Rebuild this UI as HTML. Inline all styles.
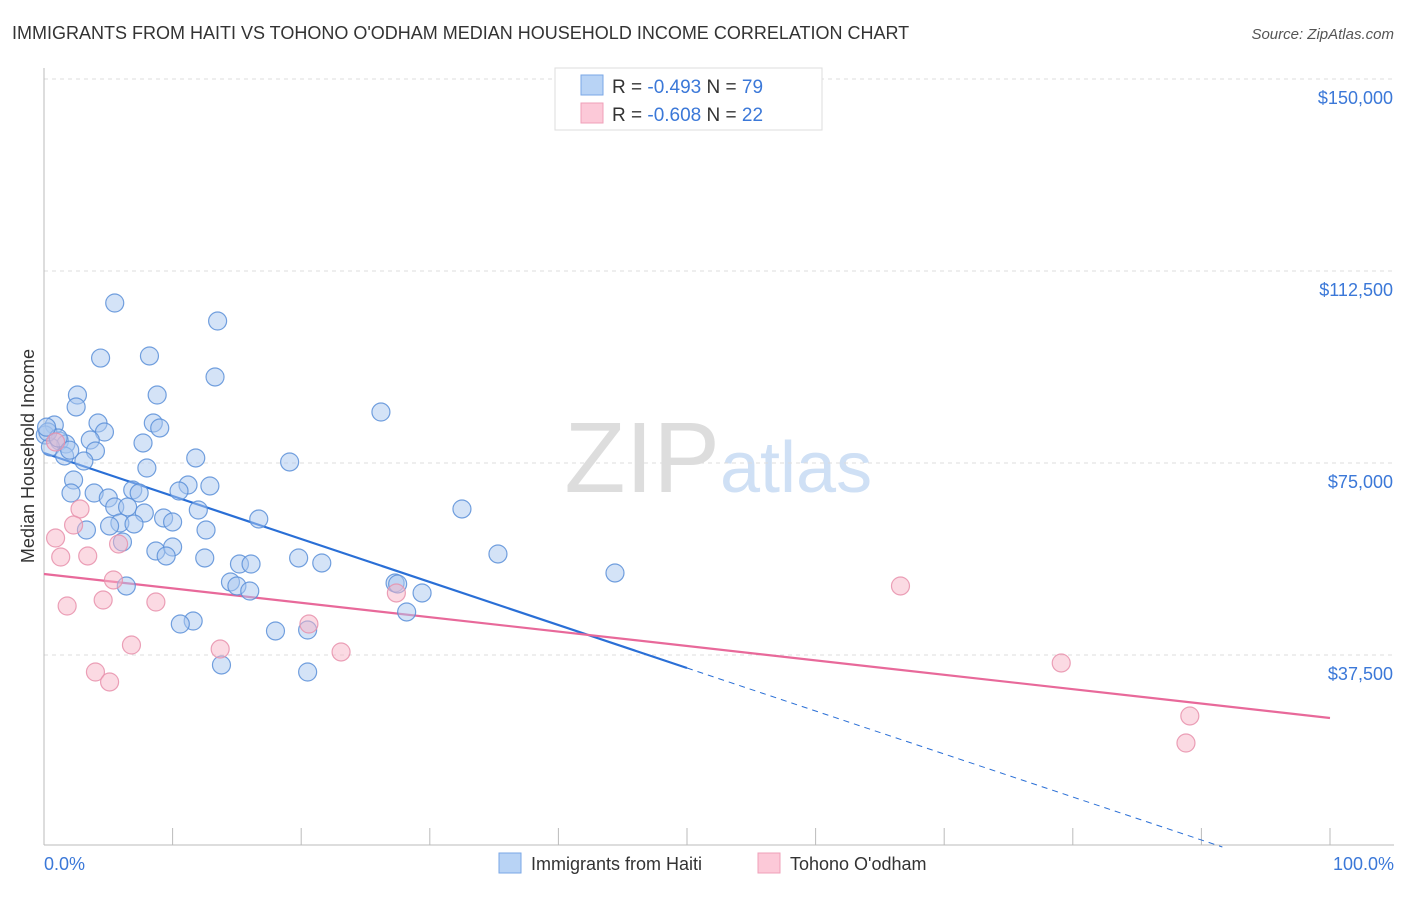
<!DOCTYPE html>
<html><head><meta charset="utf-8"><style>
body{margin:0;background:#fff;font-family:"Liberation Sans",sans-serif;}
svg text{font-family:"Liberation Sans",sans-serif;}
</style></head><body>
<svg width="1406" height="892" xmlns="http://www.w3.org/2000/svg" id="chart">
<text x="12" y="39" font-size="18" fill="#333">IMMIGRANTS FROM HAITI VS TOHONO O'ODHAM MEDIAN HOUSEHOLD INCOME CORRELATION CHART</text>
<text x="1394" y="39" font-size="15" fill="#555" font-style="italic" text-anchor="end">Source: ZipAtlas.com</text>
<text x="720" y="492" font-size="100" fill="#ddd" font-family="Liberation Serif" text-anchor="end">ZIP</text>
<text x="720" y="492" font-size="72" fill="#cfe0f5">atlas</text>
<g id="grid"></g>
<g id="axes"></g>
<g id="lines"></g>
<g id="pts"></g>
<text transform="translate(34,456) rotate(-90)" font-size="18" fill="#333" text-anchor="middle">Median Household Income</text>
<text x="44" y="870" font-size="18" fill="#3b78d8">0.0%</text>
<text x="1394" y="870" font-size="18" fill="#3b78d8" text-anchor="end">100.0%</text>
<g>
<rect x="555" y="68" width="267" height="62" fill="#fff" stroke="#ddd"/>
<rect x="581" y="75" width="22" height="20" fill="#b8d3f5" stroke="#7aa7e6"/>
<rect x="581" y="103" width="22" height="20" fill="#fcc9d8" stroke="#efa0b9"/>
<text x="612" y="93" font-size="19" fill="#333">R = <tspan fill="#3b78d8">-0.493</tspan>   N = <tspan fill="#3b78d8">79</tspan></text>
<text x="612" y="121" font-size="19" fill="#333">R = <tspan fill="#3b78d8">-0.608</tspan>   N = <tspan fill="#3b78d8">22</tspan></text>
</g>
<g>
<rect x="499" y="853" width="22" height="20" fill="#b8d3f5" stroke="#7aa7e6"/>
<text x="531" y="870" font-size="18" fill="#333">Immigrants from Haiti</text>
<rect x="758" y="853" width="22" height="20" fill="#fcc9d8" stroke="#efa0b9"/>
<text x="790" y="870" font-size="18" fill="#333">Tohono O'odham</text>
</g>
</svg>
<script>
const yTicks=[37500,75000,112500,150000];
const yTickLabels=["$37,500","$75,000","$112,500","$150,000"];
const xTicks=[0,10,20,30,40,50,60,70,80,90,100];
const haitiX=[5.5,13.5,4.4,8.2,13.3,2.6,8.8,2.5,26.2,4.2,8.5,0.8,9.0,4.7,0.1,3.6,7.7,1.2,1.7,0.5,4.0,1.6,11.8,3.1,19.1,8.0,2.3,11.2,12.9,10.5,3.9,2.1,6.9,7.4,5.0,5.5,6.5,12.0,7.8,9.3,10.0,5.9,7.0,32.5,16.7,12.6,3.3,5.1,6.1,8.7,10.0,9.5,12.5,19.8,21.6,35.3,15.2,16.1,44.4,14.5,15.0,27.3,27.5,16.0,29.4,6.4,28.2,11.6,10.6,18.0,20.5,13.8,20.5,0.3,1.1,2.0,0.2];
const haitiY=[106250,102730,95500,95900,91800,88280,88280,85940,84960,82810,82810,82420,81840,81050,80470,79490,78910,79300,78710,78130,77340,76370,75980,75390,75200,74020,71680,70700,70510,69530,69140,69140,69730,69140,68160,66410,66410,65820,65230,64260,63480,63280,63090,66020,64060,61910,61910,62700,59570,57810,58590,56840,56450,56450,55470,57230,55270,55270,53520,51760,50980,51560,51370,50000,49610,50980,45900,44140,43550,42190,42380,35550,34180,81050,79880,77500,82000];
const tohonoX=[0.9,2.8,2.3,1.3,3.4,5.8,5.4,1.8,4.6,8.7,6.8,13.7,4.0,5.1,20.6,23.1,27.4,66.6,79.1,89.1,88.8,0.9];
const tohonoY=[60350,66020,62890,56640,56840,59180,52150,47070,48240,47850,39450,38670,34180,32230,43550,38090,49610,50980,35940,25590,20310,79100];
const haitiTrend=[76950,-839.8];
const tohonoTrend=[53320,-281.2];
const NS="http://www.w3.org/2000/svg";
const X=v=>44+v*12.86;
const Y=v=>847-v*192/37500;
function mk(tag,attrs,parent){const e=document.createElementNS(NS,tag);for(const k in attrs)e.setAttribute(k,attrs[k]);parent.appendChild(e);return e;}
const grid=document.getElementById('grid'),axes=document.getElementById('axes'),lines=document.getElementById('lines'),pts=document.getElementById('pts');
yTicks.forEach((t,i)=>{
 const l=mk('line',{x1:44,x2:1394,y1:Y(t),y2:Y(t),stroke:'#ddd','stroke-dasharray':'4,4'},grid);
 
 
 const tx=mk('text',{x:1393,y:Y(t)+25,'font-size':18,fill:'#3b78d8','text-anchor':'end'},grid);
 tx.textContent=yTickLabels[i];
 
 
});
{const l=mk('line',{x1:44,x2:1394,y1:Y(150000),y2:Y(150000),stroke:'#ddd','stroke-dasharray':'4,4'},grid);}
const ya=mk('line',{x1:44,x2:44,y1:68,y2:845,stroke:'#bbb'},axes);


const xa=mk('line',{x1:44,x2:1394,y1:845,y2:845,stroke:'#bbb'},axes);


xTicks.forEach(t=>{
 const l=mk('line',{x1:X(t),x2:X(t),y1:828,y2:845,stroke:'#bbb'},axes);
 
 
});
function dots(xs,ys,fill,stroke,name){
 xs.forEach((x,i)=>{
  const c=mk('circle',{cx:X(x),cy:Y(ys[i]),r:9,fill:fill,'fill-opacity':0.5,stroke:stroke,'stroke-width':1.2,'stroke-opacity':0.85},pts);
  
  
 });
}
dots(haitiX,haitiY,'#a9c8f0','#5b8fd8','haiti-point');
dots(tohonoX,tohonoY,'#f7b6c8','#e891ab','tohono-point');
const bEnd=50,bZero=-haitiTrend[0]/haitiTrend[1];
const b1=mk('line',{x1:X(0),y1:Y(haitiTrend[0]),x2:X(bEnd),y2:Y(haitiTrend[0]+haitiTrend[1]*bEnd),stroke:'#2a6fd6','stroke-width':2.2},lines);


const b2=mk('line',{x1:X(bEnd),y1:Y(haitiTrend[0]+haitiTrend[1]*bEnd),x2:X(bZero),y2:Y(0),stroke:'#2a6fd6','stroke-width':1,'stroke-dasharray':'6,5'},lines);


const p1=mk('line',{x1:X(0),y1:Y(tohonoTrend[0]),x2:X(100),y2:Y(tohonoTrend[0]+tohonoTrend[1]*100),stroke:'#e8699a','stroke-width':2.2},lines);


</script>
</body></html>
